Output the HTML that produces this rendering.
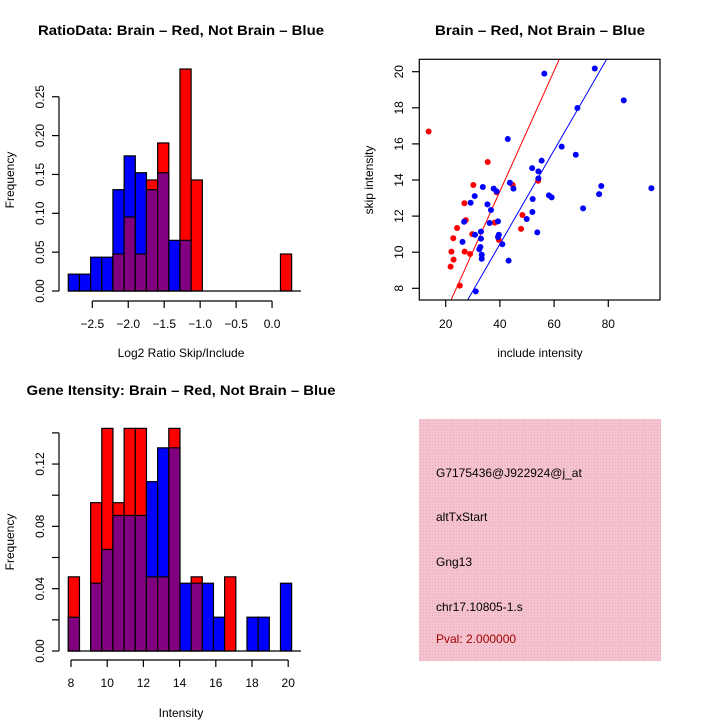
<!DOCTYPE html>
<html><head><meta charset="utf-8"><style>
html,body{margin:0;padding:0;background:#fff}
svg{display:block}
text{font-family:"Liberation Sans",sans-serif;fill:#000}
</style></head><body>
<svg id="c" width="720" height="720" xmlns="http://www.w3.org/2000/svg">
<defs>
<pattern id="hatch" width="3" height="3" patternUnits="userSpaceOnUse">
<rect width="3" height="3" fill="#f5c3cf"/><rect width="1" height="1" fill="#eaa9b8"/>
</pattern>
</defs>
<text x="181" y="35" font-size="14" font-weight="bold" text-anchor="middle" textLength="286" lengthAdjust="spacingAndGlyphs">RatioData: Brain – Red, Not Brain – Blue</text>
<text x="540" y="35" font-size="14" font-weight="bold" text-anchor="middle" textLength="210" lengthAdjust="spacingAndGlyphs">Brain – Red, Not Brain – Blue</text>
<text x="181" y="395" font-size="14" font-weight="bold" text-anchor="middle" textLength="309" lengthAdjust="spacingAndGlyphs">Gene Itensity: Brain – Red, Not Brain – Blue</text>
<text x="181" y="357" font-size="12" text-anchor="middle">Log2 Ratio Skip/Include</text>
<text x="14" y="180" font-size="12" text-anchor="middle" transform="rotate(-90 14 180)">Frequency</text>
<text x="540" y="357" font-size="12" text-anchor="middle">include intensity</text>
<text x="373" y="180" font-size="12" text-anchor="middle" transform="rotate(-90 373 180)">skip intensity</text>
<text x="181" y="717" font-size="12" text-anchor="middle">Intensity</text>
<text x="14" y="542" font-size="12" text-anchor="middle" transform="rotate(-90 14 542)">Frequency</text>
<g>
<rect x="419" y="419" width="242" height="242" fill="url(#hatch)"/>
<text x="436" y="477" font-size="12">G7175436@J922924@j_at</text>
<text x="436" y="521" font-size="12">altTxStart</text>
<text x="436" y="566" font-size="12">Gng13</text>
<text x="436" y="611" font-size="12">chr17.10805-1.s</text>
<text x="436" y="643" font-size="12" style="fill:#a00000">Pval: 2.000000</text>
</g>
</svg>
<script>
// Ratio histogram data
const ratioBinLeft = [-2.834,-2.679,-2.523,-2.368,-2.213,-2.057,-1.902,-1.747,-1.591,-1.436,-1.281,-1.125,-0.970,-0.815,-0.659,-0.504,-0.349,-0.193,-0.038,0.117];
const ratioBlue = [0.0217,0.0217,0.0435,0.0435,0.1304,0.1739,0.1522,0.1304,0.1522,0.0652,0.0652,0,0,0,0,0,0,0,0,0];
const ratioRed  = [0,0,0,0,0.0476,0.0952,0.0476,0.1429,0.1905,0,0.2857,0.1429,0,0,0,0,0,0,0,0.0476];
const ratioXTicks = [-2.5,-2.0,-1.5,-1.0,-0.5,0.0];
const ratioXLabels = ["\u22122.5","\u22122.0","\u22121.5","\u22121.0","\u22120.5","0.0"];
const ratioYTicks = [0,0.05,0.10,0.15,0.20,0.25];
const ratioYLabels = ["0.00","0.05","0.10","0.15","0.20","0.25"];
// Intensity histogram data
const intBinLeft = [7.85,8.467,9.084,9.701,10.318,10.935,11.552,12.169,12.786,13.403,14.02,14.637,15.254,15.871,16.488,17.105,17.722,18.339,18.956,19.573];
const intBlue = [0.0217,0,0.0435,0.0652,0.087,0.087,0.087,0.1087,0.1304,0.1304,0.0435,0.0435,0.0435,0.0217,0,0,0.0217,0.0217,0,0.0435];
const intRed  = [0.0476,0,0.0952,0.1429,0.0952,0.1429,0.1429,0.0476,0.0476,0.1429,0,0.0476,0,0,0.0476,0,0,0,0,0];
const intXTicks = [8,10,12,14,16,18,20];
const intXLabels = ["8","10","12","14","16","18","20"];
const intYTicks = [0,0.02,0.04,0.06,0.08,0.10,0.12,0.14];
const intYLabels = ["0.00","","0.04","","0.08","","0.12",""];
// Scatter data
const redX = [13.7,35.5,30.2,26.9,27.4,24.2,22.8,29.8,22.1,27.0,29.0,22.9,21.8,25.2,38.8,38.1,39.6,44.7,54.1,48.3,47.8];
const redY = [16.69,15.0,13.72,12.71,11.78,11.34,10.77,11.0,10.03,10.03,9.90,9.59,9.2,8.15,13.32,11.64,10.68,13.72,13.96,12.06,11.29];
const blueX = [75.0,56.4,85.7,68.6,42.9,62.8,68.0,55.4,51.9,54.2,54.2,43.7,45.0,33.7,37.7,38.8,77.4,76.6,95.9,58.1,59.1,52.1,30.7,29.2,35.4,36.7,70.7,52.0,49.9,26.8,36.2,39.3,30.8,33.0,53.8,39.6,39.3,33.0,26.2,40.9,32.8,32.4,33.3,33.3,43.2,31.1];
const blueY = [20.18,19.89,18.41,17.99,16.27,15.85,15.40,15.07,14.66,14.48,14.09,13.85,13.52,13.61,13.52,13.37,13.67,13.22,13.54,13.15,13.04,12.95,13.11,12.74,12.65,12.34,12.43,12.23,11.84,11.69,11.62,11.71,10.97,11.14,11.1,10.97,10.84,10.75,10.57,10.44,10.29,10.16,9.86,9.64,9.53,7.83];
const fitSlope = [0.334,0.26];
const fitIntercept = [0.01,0.05];
const scXTicks = [20,40,60,80];
const scYTicks = [8,10,12,14,16,18,20];

const NS="http://www.w3.org/2000/svg";
const svg=document.getElementById('c');
function mk(tag,attrs,parent){const e=document.createElementNS(NS,tag);for(const k in attrs)e.setAttribute(k,attrs[k]);(parent||svg).appendChild(e);return e;}

function drawHist(name,binLeft,binW,blue,red,sx,sy,baseY,xTicks,xLabels,yTicks,yLabels,xAxisY,yAxisX){
  const g=mk('g',{});
  
  
  for(let i=0;i<binLeft.length;i++){
    const b=blue[i],r=red[i];
    const x0=sx(binLeft[i]),x1=sx(binLeft[i]+binW);
    const hi=Math.max(b,r),lo=Math.min(b,r);
    if(hi>0){
      const col=r>=b?'#ff0000':'#0000ff';
      const el=mk('rect',{x:x0,y:sy(hi),width:x1-x0,height:sy(0)-sy(hi),fill:col,stroke:'#000','stroke-width':1.2},g);
      
      
    }
    if(lo>0){
      const el=mk('rect',{x:x0,y:sy(lo),width:x1-x0,height:sy(0)-sy(lo),fill:'#800080',stroke:'#000','stroke-width':1.2},g);
      
      
    }
  }
  const base=mk('line',{x1:sx(binLeft[0]),x2:301,y1:sy(0),y2:sy(0),stroke:'#000','stroke-width':1.2},g);
  
  
  const xa=mk('g',{},g);
  
  
  mk('line',{x1:sx(xTicks[0]),x2:sx(xTicks[xTicks.length-1]),y1:xAxisY,y2:xAxisY,stroke:'#000','stroke-width':1.2},xa);
  xTicks.forEach((t,i)=>{
    mk('line',{x1:sx(t),x2:sx(t),y1:xAxisY,y2:xAxisY+7,stroke:'#000','stroke-width':1.2},xa);
    const tx=mk('text',{x:sx(t),y:xAxisY+27,'font-size':12,'text-anchor':'middle'},xa);
    tx.textContent=xLabels[i];
    
    
  });
  const ya=mk('g',{},g);
  
  
  mk('line',{x1:yAxisX,x2:yAxisX,y1:sy(yTicks[0]),y2:sy(yTicks[yTicks.length-1]),stroke:'#000','stroke-width':1.2},ya);
  yTicks.forEach((t,i)=>{
    mk('line',{x1:yAxisX-7,x2:yAxisX,y1:sy(t),y2:sy(t),stroke:'#000','stroke-width':1.2},ya);
    if(yLabels[i]){
      const yy=sy(t),xx=yAxisX-15;
      const tx=mk('text',{x:xx,y:yy,'font-size':12,'text-anchor':'middle',transform:`rotate(-90 ${xx} ${yy})`},ya);
      tx.textContent=yLabels[i];
      
      
    }
  });
}

const rsx=v=>92.3+(v+2.5)*71.9;
const rsy=v=>291-v*777;
drawHist('ratio-histogram',ratioBinLeft,0.1553,ratioBlue,ratioRed,rsx,rsy,291,ratioXTicks,ratioXLabels,ratioYTicks,ratioYLabels,301,59);
const isx=v=>71+(v-8)*18.1;
const isy=v=>651-v*1558;
drawHist('intensity-histogram',intBinLeft,0.617,intBlue,intRed,isx,isy,651,intXTicks,intXLabels,intYTicks,intYLabels,660,59);

const ssx=v=>445.7+(v-20)*2.71;
const ssy=v=>288.3-(v-8)*18.05;
const sg=mk('g',{});


mk('clipPath',{id:'sclip'},sg).appendChild(document.createElementNS(NS,'rect'));
const cr=sg.querySelector('clipPath rect');cr.setAttribute('x',419.3);cr.setAttribute('y',59.3);cr.setAttribute('width',240.7);cr.setAttribute('height',240.7);
const fitCols=['#ff0000','#0000ff'];
fitSlope.forEach((m,i)=>{
  const xa=0,xb=110;
  const l=mk('line',{x1:ssx(xa),y1:ssy(fitIntercept[i]+m*xa),x2:ssx(xb),y2:ssy(fitIntercept[i]+m*xb),stroke:fitCols[i],'stroke-width':1,'clip-path':'url(#sclip)'},sg);
  
  
});
redX.forEach((x,i)=>{
  const c=mk('circle',{cx:ssx(x),cy:ssy(redY[i]),r:3,fill:'#ff0000'},sg);
  
  
});
blueX.forEach((x,i)=>{
  const c=mk('circle',{cx:ssx(x),cy:ssy(blueY[i]),r:3,fill:'#0000ff'},sg);
  
  
});
const box=mk('rect',{x:419.3,y:59.3,width:240.7,height:240.7,fill:'none',stroke:'#000','stroke-width':1.2},sg);


scXTicks.forEach(t=>{
  mk('line',{x1:ssx(t),x2:ssx(t),y1:300,y2:307,stroke:'#000','stroke-width':1.2},sg);
  const tx=mk('text',{x:ssx(t),y:328,'font-size':12,'text-anchor':'middle'},sg);
  tx.textContent=String(t);
  
  
});
scYTicks.forEach(t=>{
  const yy=ssy(t);
  mk('line',{x1:412,x2:419.3,y1:yy,y2:yy,stroke:'#000','stroke-width':1.2},sg);
  const tx=mk('text',{x:403,y:yy,'font-size':12,'text-anchor':'middle',transform:`rotate(-90 403 ${yy})`},sg);
  tx.textContent=String(t);
  
  
});
</script>
</body></html>
